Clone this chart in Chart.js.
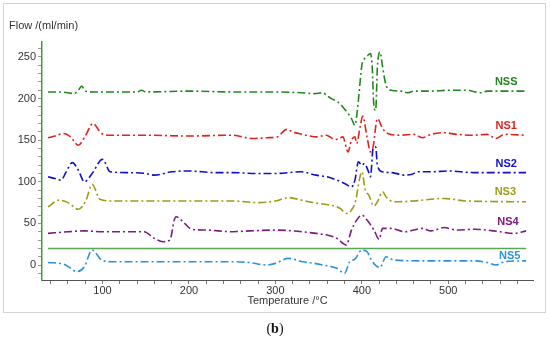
<!DOCTYPE html>
<html>
<head>
<meta charset="utf-8">
<script src="https://cdn.jsdelivr.net/npm/chart.js@4"></script>
<style>
  body { margin: 0; background: #fff; }
  #wrap { position: relative; width: 550px; height: 343px; }
  #frame { position: absolute; left: 3px; top: 3px; width: 541px; height: 308px; border: 1px solid #d4d4d4; }
  #myChart { position: absolute; left: 0; top: 0; }
  #cap { position: absolute; left: 0; width: 550px; top: 321px; text-align: center;
         font-family: "Liberation Serif", serif; font-size: 14px; color: #111; }
</style>
</head>
<body>
<div id="wrap">
  <div id="frame"></div>
  <canvas id="myChart" width="550" height="343"></canvas>
  <div id="cap">(<b>b</b>)</div>
</div>
<script>
// datos (temperatura en °C, flujo en ml/min)
const nssT = [37,50,60,67,72,76,80,90,110,140,145,150,200,250,300,330,345,355,360,365,372,378,384,388,392,396,400,403,406,410,412,414,416,418,421,424,428,434,445,453,460,480,500,520,538,545,560,590];
const nssV = [208,208,207,206,210,215,209,208,208,208,210,208,209,208,208,207,206,207,203,200,196,190,182,176,168,198,240,248,251,254,238,190,186,238,256,238,216,210,209,207,209,209,210,210,207,209,209,209];

const ns1T = [37,45,55,63,72,80,89,99,110,150,200,250,274,290,302,313,320,327,340,347,359,366,372,378,384,388,392,394,398,401,406,410,413,418,424,430,445,460,470,480,495,510,530,545,555,565,590];
const ns1V = [153,155,158,154,144,155,170,158,156,156,155,156,152,153,154,163,160,158,155,154,156,152,151,154,136,150,154,146,166,179,154,136,142,176,164,158,156,157,153,157,159,157,156,157,152,157,156];

const ns2T = [37,45,52,58,65,72,79,88,100,109,130,150,160,180,200,230,250,280,300,330,347,360,371,380,388,392,396,400,403,407,410,413,416,418,424,435,450,458,465,480,500,530,590];
const ns2V = [106,104,102,112,123,114,100,110,127,112,111,110,108,112,113,111,111,110,110,112,108,106,102,98,94,102,124,120,122,114,106,140,142,120,112,111,108,109,112,112,113,111,111];

const ns3T = [37,50,60,72,81,88,97,110,150,200,250,280,300,315,330,339,350,363,375,382,388,393,397,400,404,408,414,418,424,428,437,460,495,520,590];
const ns3V = [70,78,75,67,78,97,79,77,77,77,77,75,77,81,78,76,74,72,68,62,66,78,102,112,90,84,71,76,88,82,76,77,80,77,76];

const ns4T = [37,60,80,100,120,148,160,170,178,183,185,195,203,220,250,270,300,320,347,360,371,382,388,394,400,406,414,420,424,433,450,470,480,495,510,530,560,575,590];
const ns4V = [38,40,41,40,40,40,32,28,30,54,58,50,43,42,40,41,42,41,38,36,32,24,42,54,60,54,42,31,44,44,40,44,41,45,42,43,40,38,41];

const ns5T = [37,55,62,70,79,88,99,110,150,200,250,270,290,300,315,331,345,355,371,380,386,392,400,406,412,421,428,437,470,500,530,545,555,565,590];
const ns5V = [3,1,-3,-8,-2,18,6,4,4,4,4,3,0,2,8,4,2,0,-4,-10,4,7,18,16,4,-3,10,6,5,5,5,3,0,4,5];

// linea horizontal de referencia
const refT = [37,590];
const refV = [20,20];

const nombres = ['NSS','NS1','NS2','NS3','NS4','NS5'];
const colores = ['#23871f','#e0221e','#1010c8','#9c9c16','#7e1a80','#2b93dc'];
// donde va cada etiqueta (temperatura, flujo)
const etiquetaT = [567,567,567,566,569,571];
const etiquetaV = [220,167,121,88,52,11];

function puntos(ts, vs) {
  return ts.map((t, i) => ({ x: t, y: vs[i] }));
}

const series = [[nssT,nssV],[ns1T,ns1V],[ns2T,ns2V],[ns3T,ns3V],[ns4T,ns4V],[ns5T,ns5V]];
const datasets = series.map((s, i) => ({
  label: nombres[i],
  data: puntos(s[0], s[1]),
  borderColor: colores[i],
  borderWidth: 1.6,
  borderDash: [8, 3, 2, 3],
  pointRadius: 0,
  cubicInterpolationMode: 'monotone',
  fill: false
}));
datasets.push({
  label: 'ref',
  data: puntos(refT, refV),
  borderColor: '#5aa855',
  borderWidth: 1.5,
  pointRadius: 0,
  fill: false
});

// textos extra: titulo del eje y, y nombres de las curvas
const textos = {
  id: 'textos',
  afterDraw(chart) {
    const c = chart.ctx;
    const x = chart.scales.x, y = chart.scales.y;
    c.save();
    c.fillStyle = '#333';
    c.font = '11px "Liberation Sans", Arial';
    c.textBaseline = 'middle';
    c.textAlign = 'left';
    c.fillText('Flow /(ml/min)', 9, 26);
    c.font = 'bold 11px "Liberation Sans", Arial';
    c.textAlign = 'center';
    nombres.forEach((n, i) => {
      c.fillStyle = colores[i];
      c.fillText(n, x.getPixelForValue(etiquetaT[i]), y.getPixelForValue(etiquetaV[i]));
    });
    c.restore();
  }
};

const ctx = document.getElementById('myChart').getContext('2d');
new Chart(ctx, {
  type: 'line',
  data: { datasets: datasets },
  plugins: [textos],
  options: {
    responsive: false,
    animation: false,
    layout: { padding: { top: 42, right: 17, bottom: 33, left: 0 } },
    plugins: { legend: { display: false }, tooltip: { enabled: false } },
    scales: {
      x: {
        type: 'linear',
        min: 30,
        max: 598,
        afterBuildTicks: s => {
          const t = [];
          for (let v = 40; v <= 598; v += 20) t.push({ value: v });
          s.ticks = t;
        },
        afterFit: s => { s.height = 30; },
        border: { color: '#555', width: 1 },
        grid: { drawOnChartArea: false, tickLength: 4, color: '#777' },
        ticks: {
          autoSkip: false,
          maxRotation: 0,
          padding: 0,
          color: '#333',
          font: { family: '"Liberation Sans", Arial', size: 11 },
          callback: v => (v % 100 === 0 ? v : '')
        },
        title: {
          display: true,
          text: 'Temperature /°C',
          color: '#333',
          font: { family: '"Liberation Sans", Arial', size: 11 },
          padding: { top: 0, bottom: 2 }
        }
      },
      y: {
        min: -18,
        max: 268,
        afterBuildTicks: s => {
          const t = [];
          for (let v = -10; v <= 260; v += 10) t.push({ value: v });
          s.ticks = t;
        },
        afterFit: s => { s.width = 42; },
        border: { color: '#3f9a3a', width: 1.5 },
        grid: { drawOnChartArea: false, tickLength: 4, color: '#999' },
        ticks: {
          autoSkip: false,
          padding: 2,
          color: '#333',
          font: { family: '"Liberation Sans", Arial', size: 11 },
          callback: v => (v % 50 === 0 ? v : '')
        }
      }
    }
  }
});
</script>
</body>
</html>
